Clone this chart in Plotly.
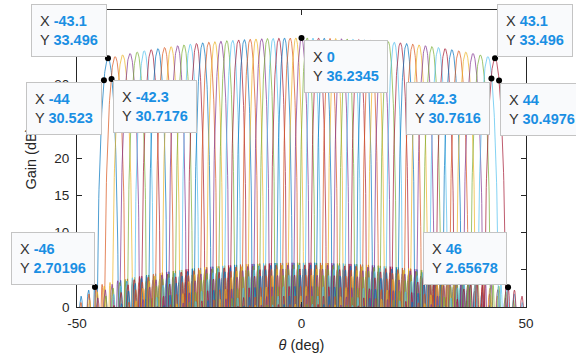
import numpy as np
import plotly.graph_objects as go

# ---------------- data ----------------
# beam steering angles (deg), positive half; beams are symmetric about 0
beam_pos_deg = [1.263, 2.527, 3.791, 5.058, 6.327, 7.599, 8.876, 10.156, 11.442,
                12.734, 14.033, 15.339, 16.654, 17.978, 19.313, 20.659, 22.018,
                23.390, 24.777, 26.181, 27.602, 29.043, 30.504, 31.989, 33.499,
                35.037, 36.606, 38.208, 39.847, 41.528, 43.100]
peak_gain_db = 36.2345          # broadside peak gain
n_elements = 96                 # array length used for the beam patterns
taylor_sll_db = 30              # sidelobe level of the taper
taylor_nbar = 5

# data tips
tip_x = [-43.1, -44, -42.3, 0, 42.3, 43.1, 44, -46, 46]
tip_y = [33.496, 30.523, 30.7176, 36.2345, 30.7616, 33.496, 30.4976, 2.70196, 2.65678]

x_ticks = [-50, 0, 50]
x_tick_text = ['-50', '0', '50']
y_ticks = [0, 5, 10, 15, 20, 25, 30, 35, 40]

# ---------------- beam pattern model ----------------
beams_deg = [-b for b in beam_pos_deg[::-1]] + [0.0] + beam_pos_deg
theta = np.round(np.arange(-50, 50.0001, 0.05), 3)


def taylor(N, nbar, sll):
    A = np.arccosh(10 ** (sll / 20)) / np.pi
    s2 = nbar ** 2 / (A ** 2 + (nbar - 0.5) ** 2)
    ma = np.arange(1, nbar)
    Fm = np.zeros(nbar - 1)
    for i, m in enumerate(ma):
        numer = np.prod(1 - m ** 2 / s2 / (A ** 2 + (ma - 0.5) ** 2))
        denom = 2 * np.prod([1 - m ** 2 / j ** 2 for j in ma if j != m])
        Fm[i] = (-1) ** (m + 1) * numer / denom
    xx = (np.arange(N) - N / 2 + 0.5) / N
    return 1 + 2 * np.dot(Fm, np.cos(2 * np.pi * np.outer(ma, xx)))


w = taylor(n_elements, taylor_nbar, taylor_sll_db)
n_idx = np.arange(n_elements)
u = np.sin(np.radians(theta))
elem_db = 20 * np.log10(np.cos(np.radians(theta)))

colors = ['#0072BD', '#D95319', '#EDB120', '#7E2F8E', '#77AC30', '#4DBEEE', '#A2142F']

fig = go.Figure()
for k, b in enumerate(beams_deg):
    u0 = np.sin(np.radians(b))
    af = np.abs(np.exp(1j * np.pi * np.outer(u - u0, n_idx)) @ w) / w.sum()
    g = peak_gain_db + 20 * np.log10(af + 1e-12) + elem_db
    g = np.round(np.maximum(g, -10), 3)
    fig.add_trace(go.Scatter(x=theta, y=g, mode='lines',
                             line=dict(color=colors[k % 7], width=0.7),
                             hoverinfo='skip', showlegend=False))

# data tip markers
fig.add_trace(go.Scatter(x=tip_x, y=tip_y, mode='markers',
                         marker=dict(color='black', size=6),
                         hoverinfo='skip', showlegend=False))

# data tip boxes: (xanchor, yanchor, xshift, yshift)
tip_place = [('right', 'bottom', -1, 1), ('right', 'top', -2, -2), ('left', 'top', 1, -1),
             ('left', 'top', 2, -2), ('right', 'top', -1, -3), ('left', 'bottom', 2, 1),
             ('left', 'top', 1, -2), ('right', 'bottom', 0, 2), ('right', 'bottom', -1, 2)]
val_col = '#1A8FE3'
for xv, yv, (xa, ya, xs, ys) in zip(tip_x, tip_y, tip_place):
    txt = (f"X <b><span style='color:{val_col}'>{xv:g}</span></b><br>"
           f"Y <b><span style='color:{val_col}'>{yv:g}</span></b>")
    fig.add_annotation(x=xv, y=yv, xref='x', yref='y', text=txt, showarrow=False,
                       xanchor=xa, yanchor=ya, xshift=xs, yshift=ys, align='left',
                       font=dict(family='Liberation Sans, Arial, sans-serif', size=14.5,
                                 color='#333333'),
                       bgcolor='#F9FAFC', bordercolor='#C4C4C4', borderwidth=1,
                       borderpad=8)

axis_font = dict(family='Liberation Sans, Arial, sans-serif', size=13.5, color='#262626')
fig.update_layout(
    width=576, height=356, autosize=False,
    margin=dict(l=77, r=50, t=10, b=49),
    paper_bgcolor='white', plot_bgcolor='white',
    font=axis_font,
    xaxis=dict(range=[-50, 50], tickvals=x_ticks, ticktext=x_tick_text, ticks='inside',
               ticklen=5, tickcolor='#262626', tickwidth=0.8, showline=True,
               linecolor='#262626', linewidth=0.8, mirror='ticks', showgrid=False,
               zeroline=False, ticklabelstandoff=4, automargin=False,
               title=dict(text='<i>θ</i> (deg)', standoff=9,
                          font=dict(size=14.5, color='#262626'))),
    yaxis=dict(range=[0, 40], tickvals=y_ticks, ticks='inside', ticklen=5,
               tickcolor='#262626', tickwidth=0.8, showline=True, linecolor='#262626',
               linewidth=0.8, mirror='ticks', showgrid=False, zeroline=False,
               ticklabelstandoff=4, automargin=False,
               title=dict(text='Gain (dB)', standoff=14,
                          font=dict(size=14.5, color='#262626'))),
)

fig.write_html('out.html')
